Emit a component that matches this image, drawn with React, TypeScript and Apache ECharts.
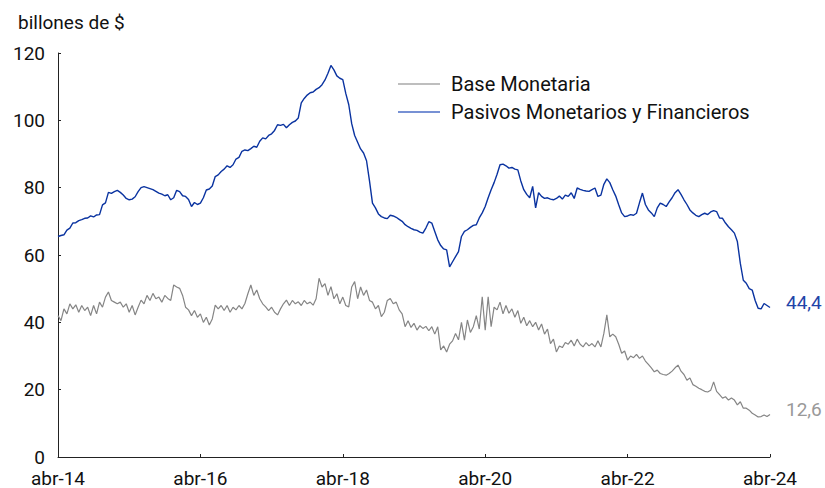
import React, { useEffect, useRef } from "react";
import * as echarts from "echarts";

// Months since abr-14, sampled every half month (index * 0.5)
const tickLabels = ["abr-14", "abr-16", "abr-18", "abr-20", "abr-22", "abr-24"];
const yTicks = [0, 20, 40, 60, 80, 100, 120];

const seriesNames = ["Base Monetaria", "Pasivos Monetarios y Financieros"];

// Base Monetaria (billones de $), half-monthly
const baseMonetaria = [
  42.0, 40.5, 44.0, 42.5, 45.5, 44.0, 45.2, 43.0, 45.0, 43.5, 44.5, 42.0, 45.0, 42.5, 46.0, 44.5, 47.5, 49.0, 46.5, 46.0, 45.5, 46.0, 44.5, 45.5,
  43.0, 45.0, 42.2, 44.5, 46.6, 45.5, 48.0, 46.5, 48.6, 47.0, 47.5, 46.0, 48.0, 47.1, 46.5, 51.1, 50.5, 50.1, 48.0, 44.5, 43.7, 42.0, 43.5, 41.5,
  42.5, 40.0, 41.5, 39.2, 41.0, 45.1, 44.0, 45.0, 43.5, 45.0, 43.0, 44.5, 43.7, 45.0, 44.0, 45.6, 48.5, 51.1, 48.0, 49.6, 47.0, 45.5, 44.6, 43.5,
  44.5, 43.0, 42.2, 44.0, 45.5, 46.6, 45.0, 46.5, 45.5, 46.1, 45.0, 46.5, 45.5, 46.0, 45.1, 47.0, 53.1, 50.5, 51.5, 48.0, 50.6, 47.0, 48.5, 45.5,
  47.5, 45.0, 44.6, 50.5, 52.1, 47.0, 50.5, 48.0, 49.6, 46.5, 46.0, 44.0, 45.0, 41.7, 43.0, 46.5, 47.1, 45.5, 46.0, 43.7, 42.5, 38.7, 40.5, 38.5,
  39.7, 37.7, 39.0, 38.2, 38.8, 37.5, 38.7, 36.5, 38.7, 31.8, 33.0, 31.2, 33.5, 34.5, 36.7, 34.8, 40.0, 34.7, 40.7, 37.0, 38.7, 42.0, 38.0, 47.6,
  37.7, 47.6, 38.7, 44.5, 43.7, 46.0, 42.5, 45.0, 42.7, 44.0, 41.5, 43.5, 39.7, 41.5, 39.0, 40.5, 38.7, 40.0, 37.7, 39.5, 36.5, 38.0, 33.7, 35.0,
  31.2, 33.0, 32.5, 34.0, 33.5, 34.7, 33.0, 35.0, 33.5, 32.7, 34.0, 33.0, 33.7, 32.7, 34.5, 32.7, 36.7, 42.2, 35.7, 36.5, 35.7, 33.5, 30.8, 31.5,
  28.8, 30.0, 29.5, 30.5, 29.3, 30.0, 28.5, 27.5, 26.5, 25.3, 25.8, 24.8, 24.5, 24.3, 24.8, 25.5, 26.5, 27.3, 25.5, 24.5, 22.8, 23.5, 21.5, 21.0,
  20.4, 20.0, 19.5, 19.3, 19.8, 22.3, 19.5, 18.5, 17.5, 17.9, 16.9, 17.5, 16.9, 15.5, 16.4, 14.5, 14.5, 13.9, 13.0, 12.5, 11.9, 12.0, 12.5, 12.0,
  12.6,
];

// Pasivos Monetarios y Financieros (billones de $), half-monthly
const pasivos = [
  65.5, 65.8, 66.0, 67.4, 68.0, 69.5, 69.6, 70.2, 70.5, 70.9, 71.0, 71.6, 71.3, 71.9, 72.0, 74.9, 75.5, 78.6, 78.3, 78.8, 79.2, 78.6, 77.8, 76.8,
  76.4, 76.6, 77.3, 78.8, 80.0, 80.3, 80.0, 79.7, 79.4, 78.9, 78.4, 78.1, 77.6, 77.9, 76.4, 77.0, 79.2, 78.8, 77.6, 77.4, 76.5, 74.4, 75.6, 75.0,
  75.4, 77.0, 79.3, 79.6, 80.5, 83.3, 83.8, 84.8, 85.5, 86.5, 86.0, 86.8, 88.5, 89.0, 90.8, 91.2, 91.0, 91.6, 92.3, 92.0, 93.8, 94.8, 94.5, 95.5,
  96.0, 97.0, 98.7, 98.5, 98.8, 97.8, 98.7, 99.4, 99.8, 100.7, 105.2, 106.5, 107.5, 108.2, 108.4, 109.2, 109.7, 110.6, 112.0, 114.0, 116.3, 115.0, 113.2, 112.5,
  112.1, 108.0, 104.7, 99.0, 95.5, 93.5, 91.5, 90.3, 88.0, 82.0, 75.4, 74.0, 72.2, 71.4, 71.0, 70.8, 71.8, 71.6, 71.2, 70.6, 70.0, 69.0, 68.4, 67.9,
  67.5, 67.3, 66.8, 66.5, 68.0, 69.9, 69.5, 67.0, 64.5, 62.8, 61.8, 61.5, 56.5, 58.0, 59.5, 61.0, 65.5, 67.0, 67.5, 68.2, 68.8, 69.0, 71.0, 72.5,
  74.4, 77.0, 79.4, 81.5, 84.0, 86.8, 87.0, 86.5, 85.8, 86.0, 85.5, 85.3, 82.0, 79.4, 78.0, 77.0, 80.4, 74.0, 78.5, 77.4, 76.8, 77.0, 76.6, 76.4,
  76.8, 77.5, 76.6, 77.8, 77.4, 78.5, 76.8, 79.9, 79.5, 79.2, 79.0, 78.9, 79.4, 79.9, 77.4, 77.8, 81.0, 82.6, 81.5, 79.4, 77.5, 74.9, 72.5, 71.4,
  71.6, 72.0, 71.8, 72.4, 75.5, 78.4, 75.0, 73.4, 72.5, 71.4, 74.0, 75.4, 75.0, 74.4, 75.8, 77.0, 78.5, 79.4, 78.0, 76.4, 75.0, 73.4, 72.5, 71.8,
  71.4, 72.0, 72.4, 72.0, 72.8, 73.2, 72.9, 71.0, 70.9, 69.5, 68.4, 67.5, 66.5, 64.0, 57.5, 52.5, 51.6, 50.0, 49.6, 46.5, 44.2, 44.0, 45.6, 45.0,
  44.4,
];

const BLUE = "#0a33a0";
const GRAY = "#858585";
const FONT = "Roboto";

function toPairs(values: number[]) {
  return values.map((v, i) => [i * 0.5, v]);
}

function fmt(v: number) {
  return v.toFixed(1).replace(".", ",");
}

export default function App() {
  const ref = useRef<HTMLDivElement>(null);

  useEffect(() => {
    if (!ref.current) return;
    const chart = echarts.init(ref.current, undefined, { renderer: "svg" });
    chart.setOption({
      animation: false,
      textStyle: { fontFamily: FONT },
      title: {
        text: "billones de $",
        left: 13,
        top: 8,
        textStyle: { fontFamily: FONT, fontSize: 19, fontWeight: "normal", color: "#111" },
      },
      legend: {
        orient: "vertical",
        left: 393,
        top: 69,
        icon: "rect",
        itemWidth: 42,
        itemHeight: 1.5,
        itemGap: 8,
        textStyle: { fontFamily: FONT, fontSize: 20, color: "#111", lineHeight: 20, padding: [0, 0, 0, 6] },
        data: [
          { name: seriesNames[0], itemStyle: { color: "#a9a9a9" } },
          { name: seriesNames[1], itemStyle: { color: "#4a6cc6" } },
        ],
      },
      grid: { left: 58, right: 55, top: 53, bottom: 31, containLabel: false },
      xAxis: {
        type: "value",
        min: 0,
        max: 120,
        interval: 24,
        axisLine: { show: true, lineStyle: { color: "#222", width: 1 } },
        axisTick: { show: true, inside: true, length: 3, lineStyle: { color: "#222" } },
        splitLine: { show: false },
        axisLabel: {
          fontFamily: FONT,
          fontSize: 19,
          lineHeight: 18,
          color: "#111",
          margin: 12,
          formatter: (v: number) => tickLabels[Math.round(v / 24)] ?? "",
        },
      },
      yAxis: {
        type: "value",
        min: yTicks[0],
        max: yTicks[yTicks.length - 1],
        interval: 20,
        axisLine: { show: true, lineStyle: { color: "#222", width: 1 } },
        axisTick: { show: true, inside: true, length: 3, lineStyle: { color: "#222" } },
        splitLine: { show: false },
        axisLabel: { fontFamily: FONT, fontSize: 19, lineHeight: 16, color: "#111", margin: 13, padding: [0, 0, 2, 0] },
      },
      series: [
        {
          name: seriesNames[0],
          type: "line",
          data: toPairs(baseMonetaria),
          showSymbol: false,
          symbol: "none",
          lineStyle: { color: GRAY, width: 1.2 },
          itemStyle: { color: GRAY },
          endLabel: {
            show: true,
            formatter: () => fmt(baseMonetaria[baseMonetaria.length - 1]),
            color: "#999",
            fontFamily: FONT,
            fontSize: 19,
            distance: 16,
            offset: [0, -5],
          },
          z: 2,
        },
        {
          name: seriesNames[1],
          type: "line",
          data: toPairs(pasivos),
          showSymbol: false,
          symbol: "none",
          lineStyle: { color: BLUE, width: 1.4 },
          itemStyle: { color: BLUE },
          endLabel: {
            show: true,
            formatter: () => fmt(pasivos[pasivos.length - 1]),
            color: "#1f44a8",
            fontFamily: FONT,
            fontSize: 19,
            distance: 16,
            offset: [0, -5],
          },
          z: 3,
        },
      ],
    });
    return () => chart.dispose();
  }, []);

  return (
    <div
      ref={ref}
      style={{ position: "fixed", left: 0, top: 0, width: 825, height: 488, background: "#fff" }}
    />
  );
}
